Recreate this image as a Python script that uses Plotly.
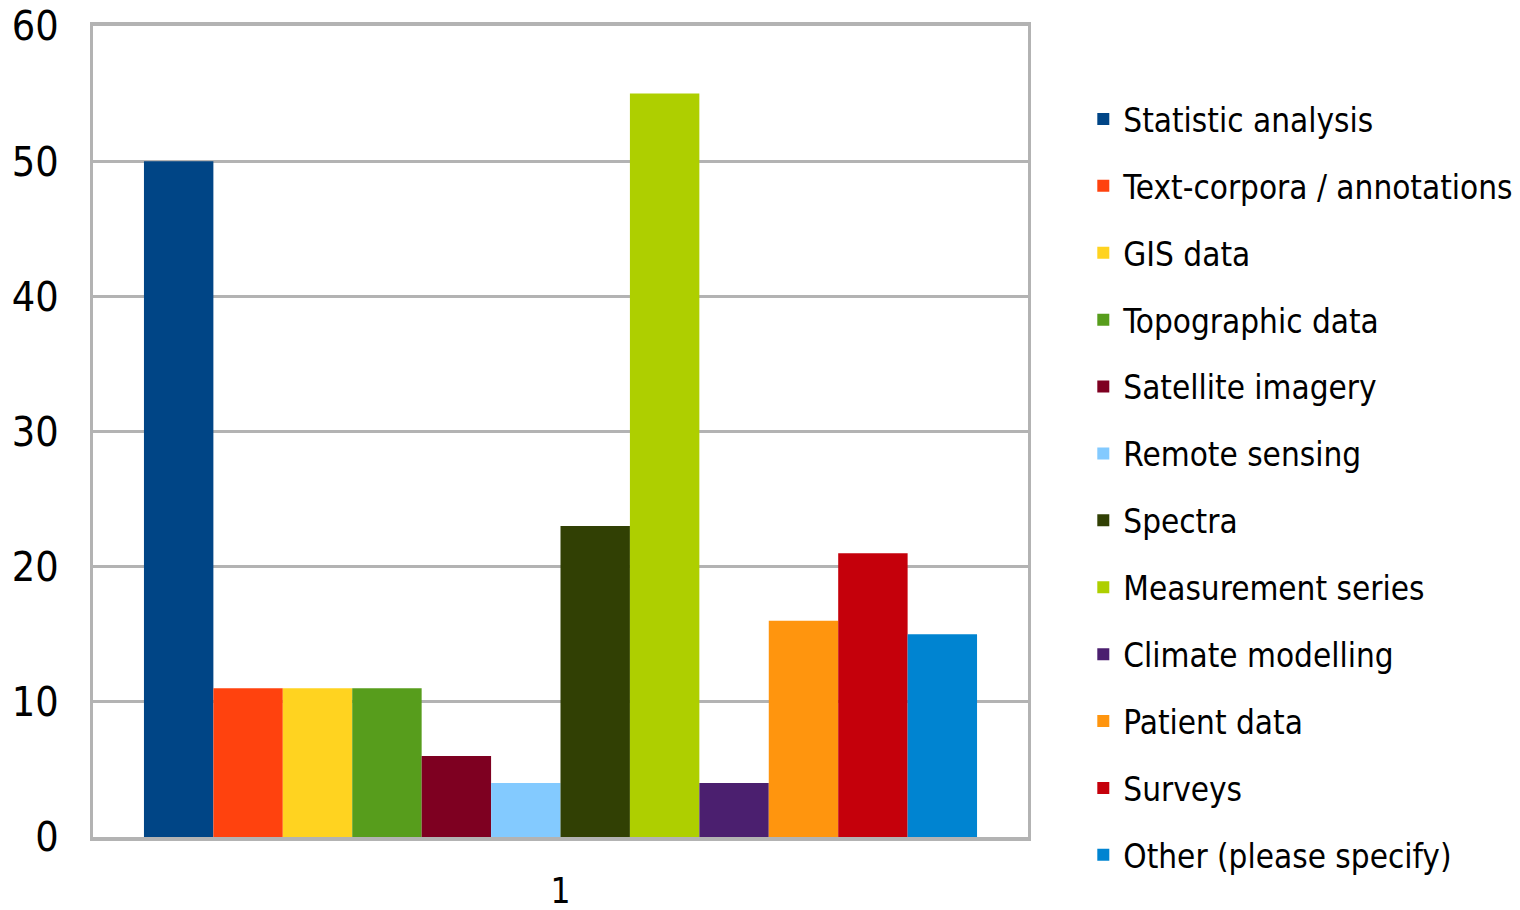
import plotly.graph_objects as go

# Survey: types of research data used
categories = ["1"]
series_names = [
    "Statistic analysis",
    "Text-corpora / annotations",
    "GIS data",
    "Topographic data",
    "Satellite imagery",
    "Remote sensing",
    "Spectra",
    "Measurement series",
    "Climate modelling",
    "Patient data",
    "Surveys",
    "Other (please specify)",
]
series_values = [50, 11, 11, 11, 6, 4, 23, 55, 4, 16, 21, 15]
series_colors = [
    "#004586", "#ff420e", "#ffd320", "#579d1c", "#7e0021", "#83caff",
    "#314004", "#aecf00", "#4b1f6f", "#ff950e", "#c5000b", "#0084d1",
]
y_ticks = [0, 10, 20, 30, 40, 50, 60]

FONT = "DejaVu Sans Condensed, DejaVu Sans"
GRID = "#b3b3b3"

fig = go.Figure()
for i, (name, val, col) in enumerate(zip(series_names, series_values, series_colors)):
    fig.add_trace(go.Bar(
        x=categories, y=[val], name=name,
        marker=dict(color=col, line=dict(width=0)),
        legendgroup=f"g{i}",
    ))

fig.update_layout(
    width=1520, height=910,
    margin=dict(l=93, r=492, t=26, b=73, autoexpand=False),
    paper_bgcolor="white", plot_bgcolor="white",
    barmode="group", bargap=0.109, bargroupgap=0,
    font=dict(family=FONT, color="black"),
    legend=dict(
        xref="container", yref="container",
        x=0.7127, xanchor="left", y=1 - 487 / 910, yanchor="middle",
        font=dict(family=FONT, size=33, color="black"),
        tracegroupgap=21, itemsizing="constant",
        maxheight=905,
        bgcolor="rgba(0,0,0,0)",
    ),
    showlegend=True,
)
fig.update_xaxes(
    type="category", showgrid=False,
    showline=True, linecolor=GRID, linewidth=4, mirror=True,
    tickfont=dict(family=FONT, size=35, color="black"),
    ticks="", ticklabelstandoff=20,
)
fig.update_yaxes(
    range=[0, 60], tickvals=y_ticks,
    showgrid=True, gridcolor=GRID, gridwidth=3,
    showline=True, linecolor=GRID, linewidth=3, mirror=True,
    zeroline=False,
    tickfont=dict(family=FONT, size=41, color="black"),
    ticks="", ticklabelstandoff=23,
)

fig.write_html("out.html")
